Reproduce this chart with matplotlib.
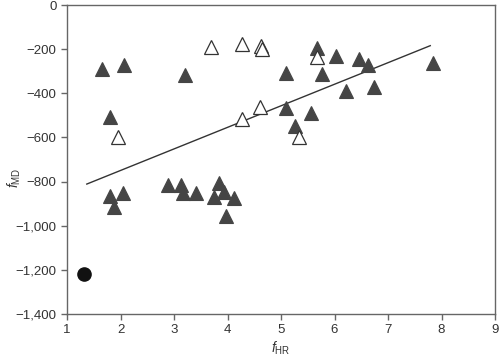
import matplotlib
matplotlib.use("Agg")
import matplotlib.pyplot as plt
from matplotlib.ticker import FuncFormatter

plt.rcParams['font.family'] = ['Liberation Sans', 'DejaVu Sans']
plt.rcParams['mathtext.fontset'] = 'custom'
plt.rcParams['mathtext.it'] = 'Liberation Sans:italic'
plt.rcParams['mathtext.rm'] = 'Liberation Sans'

# filled triangles
filled_x = [1.66, 2.07, 3.21, 1.80, 5.09, 5.67, 5.77, 6.02, 6.46, 6.62, 6.21, 6.74,
            7.85, 5.09, 5.57, 5.26, 1.80, 2.04, 1.88, 2.89, 3.13, 3.16, 3.42, 3.85,
            3.75, 3.94, 4.12, 3.97]
filled_y = [-291, -272, -317, -509, -307, -193, -313, -231, -245, -272, -391, -373,
            -264, -468, -491, -548, -863, -853, -913, -816, -816, -853, -853, -808,
            -868, -848, -876, -956]

# open triangles
open_x = [3.69, 4.27, 4.62, 4.64, 5.67, 4.60, 4.27, 1.96, 5.33]
open_y = [-189, -177, -186, -201, -234, -460, -517, -600, -600]

# single circle
circle_x = [1.32]
circle_y = [-1219]

# trend line
trend_x = [1.37, 7.79]
trend_y = [-811, -184]

fig = plt.figure(figsize=(5, 3.61), dpi=100)
ax = fig.add_axes([0.134, 0.130, 0.856, 0.856])

ax.plot(trend_x, trend_y, color='#333333', linewidth=1.0, zorder=2)
ax.plot(filled_x, filled_y, linestyle='none', marker='^', markersize=10,
        markerfacecolor='#454545', markeredgecolor='#454545', markeredgewidth=0.8, zorder=3)
ax.plot(open_x, open_y, linestyle='none', marker='^', markersize=10,
        markerfacecolor='white', markeredgecolor='#333333', markeredgewidth=0.9, zorder=3)
ax.plot(circle_x, circle_y, linestyle='none', marker='o', markersize=9.5,
        markerfacecolor='#111111', markeredgecolor='#111111', zorder=3)

ax.set_xlim(1, 9)
ax.set_ylim(-1400, 0)
ax.set_xticks(range(1, 10))
ax.set_yticks(range(-1400, 1, 200))
ax.yaxis.set_major_formatter(FuncFormatter(lambda v, p: '{:,.0f}'.format(v).replace('-', '\u2212')))

for s in ax.spines.values():
    s.set_color('#666666')
    s.set_linewidth(1.0)
ax.tick_params(direction='out', length=4, width=1, color='#666666',
               labelsize=9.5, labelcolor='#333333')

ax.set_xlabel(r'$f_{\mathrm{HR}}$', fontsize=10, color='#333333', labelpad=2)
ax.set_ylabel(r'$f_{\mathrm{MD}}$', fontsize=10, color='#333333')
ax.yaxis.set_label_coords(-0.102, 0.44)

fig.savefig('out.png', dpi=100)
